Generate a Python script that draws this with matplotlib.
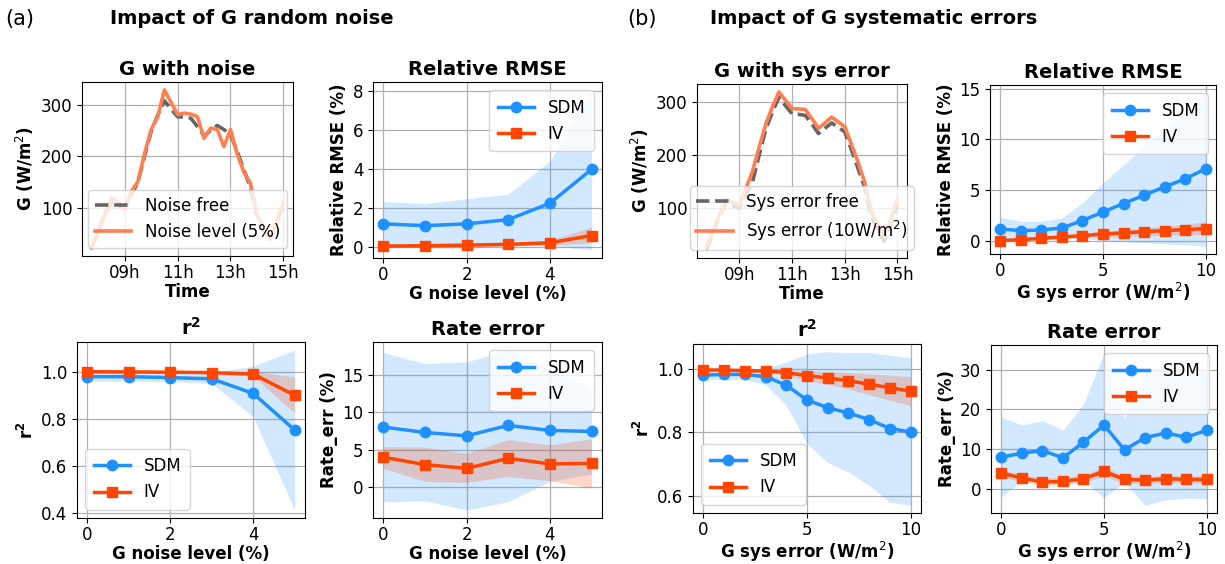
import matplotlib
matplotlib.use("Agg")
import matplotlib.pyplot as plt
from matplotlib.ticker import FixedLocator, FuncFormatter

# ---------------- data ----------------
# time of day (hours)
time_h = [7.75, 8.0, 8.25, 8.5, 8.75, 9.0, 9.25, 9.5, 9.75, 10.0, 10.25, 10.5, 10.75,
          11.0, 11.25, 11.5, 11.75, 12.0, 12.25, 12.5, 12.75, 13.0, 13.25, 13.5, 13.75,
          14.0, 14.25, 14.5, 14.75, 15.0]
g_free = [22, 55, 88, 110, 105, 100, 125, 150, 200, 248, 280, 308, 292,
          277, 276, 274, 258, 240, 250, 260, 252, 243, 210, 175, 140,
          85, 60, 38, 72, 108]
g_noise = [22, 55, 88, 119, 112, 97, 132, 151, 205, 252, 277, 329, 305,
           281, 284, 282, 277, 235, 255, 252, 219, 252, 205, 170, 148,
           87, 62, 39, 75, 110]
g_sys = [30, 58, 90, 116, 112, 107, 138, 170, 215, 258, 290, 318, 302,
         287, 286, 285, 268, 250, 260, 271, 262, 253, 220, 187, 150,
         95, 70, 47, 80, 118]

noise_level = [0, 1, 2, 3, 4, 5]
sys_error = [0, 1, 2, 3, 4, 5, 6, 7, 8, 9, 10]

# (a) random noise
rmse_a_sdm = [1.17, 1.08, 1.17, 1.39, 2.23, 3.97]
rmse_a_sdm_hi = [2.32, 2.22, 2.46, 2.70, 4.40, 8.04]
rmse_a_sdm_lo = [0.0, -0.05, -0.1, 0.05, 0.05, -0.17]
rmse_a_iv = [0.03, 0.05, 0.08, 0.12, 0.20, 0.57]
rmse_a_iv_hi = [0.06, 0.09, 0.14, 0.20, 0.33, 1.0]
rmse_a_iv_lo = [0.0, 0.01, 0.02, 0.04, 0.08, 0.2]

r2_a_sdm = [0.979, 0.979, 0.975, 0.970, 0.908, 0.753]
r2_a_sdm_hi = [0.996, 0.996, 0.994, 0.996, 1.024, 1.092]
r2_a_sdm_lo = [0.960, 0.960, 0.958, 0.950, 0.810, 0.414]
r2_a_iv = [1.0, 0.999, 0.998, 0.996, 0.990, 0.900]
r2_a_iv_hi = [1.002, 1.002, 1.001, 1.0, 1.003, 0.977]
r2_a_iv_lo = [0.997, 0.996, 0.995, 0.992, 0.982, 0.824]

rate_a_sdm = [8.04, 7.32, 6.88, 8.26, 7.59, 7.46]
rate_a_sdm_hi = [17.95, 16.5, 16.74, 18.3, 15.7, 13.17]
rate_a_sdm_lo = [-1.9, -1.8, -3.0, -1.9, 0.8, 1.8]
rate_a_iv = [4.02, 3.04, 2.54, 3.88, 3.13, 3.21]
rate_a_iv_hi = [5.45, 5.36, 4.55, 6.38, 5.67, 6.47]
rate_a_iv_lo = [2.54, 0.8, 0.67, 1.47, 0.9, -0.09]

# (b) systematic errors
rmse_b_sdm = [1.15, 0.99, 1.05, 1.25, 1.98, 2.83, 3.66, 4.48, 5.31, 6.10, 7.09]
rmse_b_sdm_hi = [2.31, 1.91, 1.91, 2.24, 3.72, 5.7, 7.5, 9.3, 11.0, 12.8, 14.6]
rmse_b_sdm_lo = [0.0, 0.07, 0.2, 0.26, 0.24, 0.0, -0.1, -0.2, -0.3, -0.4, -0.56]
rmse_b_iv = [0.0, 0.10, 0.23, 0.36, 0.49, 0.66, 0.76, 0.89, 0.99, 1.09, 1.19]
rmse_b_iv_hi = [0.05, 0.2, 0.38, 0.55, 0.72, 0.92, 1.08, 1.25, 1.42, 1.6, 1.88]
rmse_b_iv_lo = [0.0, 0.02, 0.1, 0.18, 0.27, 0.36, 0.42, 0.48, 0.53, 0.56, 0.6]

r2_b_sdm = [0.981, 0.983, 0.983, 0.976, 0.949, 0.902, 0.878, 0.861, 0.840, 0.812, 0.801]
r2_b_sdm_hi = [0.997, 0.997, 0.997, 1.002, 1.023, 1.048, 1.055, 1.052, 1.052, 1.044, 1.036]
r2_b_sdm_lo = [0.967, 0.967, 0.966, 0.951, 0.885, 0.764, 0.704, 0.674, 0.632, 0.579, 0.569]
r2_b_iv = [0.997, 0.997, 0.995, 0.994, 0.989, 0.979, 0.972, 0.963, 0.952, 0.941, 0.930]
r2_b_iv_hi = [1.0, 1.0, 0.999, 0.999, 0.997, 0.995, 0.992, 0.989, 0.985, 0.981, 0.976]
r2_b_iv_lo = [0.994, 0.994, 0.991, 0.989, 0.981, 0.963, 0.952, 0.937, 0.919, 0.901, 0.884]

rate_b_sdm = [8.0, 9.0, 9.67, 7.83, 11.75, 16.08, 9.83, 12.9, 14.08, 13.0, 14.75]
rate_b_sdm_hi = [18.0, 16.08, 17.17, 14.83, 21.3, 34.25, 17.6, 29.5, 30.5, 28.5, 30.0]
rate_b_sdm_lo = [-2.0, 2.0, 2.3, 0.9, 2.1, -2.2, 1.75, -4.1, -2.7, -2.3, -2.4]
rate_b_iv = [4.0, 2.75, 1.75, 1.92, 2.58, 4.42, 2.42, 2.25, 2.58, 2.42, 2.42]
rate_b_iv_hi = [5.0, 3.6, 2.8, 2.9, 3.5, 5.6, 3.3, 3.2, 3.4, 3.3, 3.3]
rate_b_iv_lo = [3.0, 1.9, 0.7, 0.9, 1.7, 3.2, 1.5, 1.3, 1.7, 1.5, 1.5]

# ---------------- style ----------------
SDM_C = "#1E90FF"
IV_C = "#FF4500"
NOISE_C = "#FF7F50"
FREE_C = "#666666"

plt.rcParams.update({
    "font.family": "DejaVu Sans",
    "font.size": 12,
    "axes.titlesize": 14,
    "axes.titleweight": "bold",
    "axes.titlepad": 5,
    "axes.labelsize": 12,
    "axes.labelweight": "bold",
    "axes.labelpad": 1,
    "xtick.labelsize": 12,
    "ytick.labelsize": 12,
    "xtick.major.pad": 2,
    "legend.fontsize": 12,
    "legend.handlelength": 2.2,
})

fig = plt.figure(figsize=(12.25, 5.64), dpi=100)

def px_axes(l, r, t, b):
    W, H = 1225.0, 564.0
    return fig.add_axes([l / W, 1 - b / H, (r - l) / W, (b - t) / H])

def style(ax):
    ax.grid(True, color="#b0b0b0", linewidth=0.9)
    ax.set_axisbelow(True)

def g_panel(ax, free, other, free_lab, other_lab, title):
    ax.plot(time_h, free, color=FREE_C, ls="--", lw=2.6, label=free_lab)
    ax.plot(time_h, other, color=NOISE_C, lw=2.6, label=other_lab)
    ax.xaxis.set_major_locator(FixedLocator([9, 11, 13, 15]))
    ax.xaxis.set_major_formatter(FuncFormatter(lambda v, p: "%02dh" % int(round(v))))
    ax.set_xlabel("Time")
    ax.set_ylabel(r"G (W/m$^2$)", labelpad=3)
    ax.set_title(title)
    style(ax)
    ax.legend(loc="lower center")

def metric_panel(ax, x, sdm, sdm_lo, sdm_hi, iv, iv_lo, iv_hi, xlabel, ylabel, title, loc):
    ax.fill_between(x, sdm_lo, sdm_hi, color=SDM_C, alpha=0.2, lw=0)
    ax.fill_between(x, iv_lo, iv_hi, color=IV_C, alpha=0.22, lw=0)
    ax.plot(x, sdm, color=SDM_C, marker="o", ms=7.5, lw=2.5, label="SDM")
    ax.plot(x, iv, color=IV_C, marker="s", ms=7, lw=2.5, label="IV")
    ax.set_xlabel(xlabel)
    ax.set_ylabel(ylabel, labelpad=3)
    ax.set_title(title)
    style(ax)
    ax.legend(loc=loc, borderpad=0.5)

# (a)
a1 = px_axes(82, 293, 82, 256)
g_panel(a1, g_free, g_noise, "Noise free", "Noise level (5%)", "G with noise")

a2 = px_axes(373, 602, 82, 258)
metric_panel(a2, noise_level, rmse_a_sdm, rmse_a_sdm_lo, rmse_a_sdm_hi,
             rmse_a_iv, rmse_a_iv_lo, rmse_a_iv_hi,
             "G noise level (%)", "Relative RMSE (%)", "Relative RMSE", "upper right")
a2.set_xticks([0, 2, 4])

a3 = px_axes(77, 305, 342, 518)
metric_panel(a3, noise_level, r2_a_sdm, r2_a_sdm_lo, r2_a_sdm_hi,
             r2_a_iv, r2_a_iv_lo, r2_a_iv_hi,
             "G noise level (%)", r"$\mathbf{r^2}$", r"$\mathbf{r^2}$", "lower left")
a3.set_xticks([0, 2, 4])

a4 = px_axes(373, 602, 342, 518)
metric_panel(a4, noise_level, rate_a_sdm, rate_a_sdm_lo, rate_a_sdm_hi,
             rate_a_iv, rate_a_iv_lo, rate_a_iv_hi,
             "G noise level (%)", "Rate_err (%)", "Rate error", "upper right")
a4.set_xticks([0, 2, 4])

# (b)
b1 = px_axes(697, 907, 84, 258)
g_panel(b1, g_free, g_sys, "Sys error free", r"Sys error (10W/m$^2$)", "G with sys error")

b2 = px_axes(990, 1216, 85, 254)
metric_panel(b2, sys_error, rmse_b_sdm, rmse_b_sdm_lo, rmse_b_sdm_hi,
             rmse_b_iv, rmse_b_iv_lo, rmse_b_iv_hi,
             r"G sys error (W/m$^2$)", "Relative RMSE (%)", "Relative RMSE", "upper right")

b3 = px_axes(693, 921, 344, 513)
metric_panel(b3, sys_error, r2_b_sdm, r2_b_sdm_lo, r2_b_sdm_hi,
             r2_b_iv, r2_b_iv_lo, r2_b_iv_hi,
             r"G sys error (W/m$^2$)", r"$\mathbf{r^2}$", r"$\mathbf{r^2}$", "lower left")

b4 = px_axes(991, 1217, 345, 513)
metric_panel(b4, sys_error, rate_b_sdm, rate_b_sdm_lo, rate_b_sdm_hi,
             rate_b_iv, rate_b_iv_lo, rate_b_iv_hi,
             r"G sys error (W/m$^2$)", "Rate_err (%)", "Rate error", "upper right")

# headers
fig.text(5 / 1225, 1 - 19 / 564, "(a)", fontsize=15, va="center", ha="left")
fig.text(252 / 1225, 1 - 19 / 564, "Impact of G random noise", fontsize=14,
         fontweight="bold", va="center", ha="center")
fig.text(627 / 1225, 1 - 19 / 564, "(b)", fontsize=15, va="center", ha="left")
fig.text(874 / 1225, 1 - 19 / 564, "Impact of G systematic errors", fontsize=14,
         fontweight="bold", va="center", ha="center")

fig.savefig("out.png", dpi=100)
